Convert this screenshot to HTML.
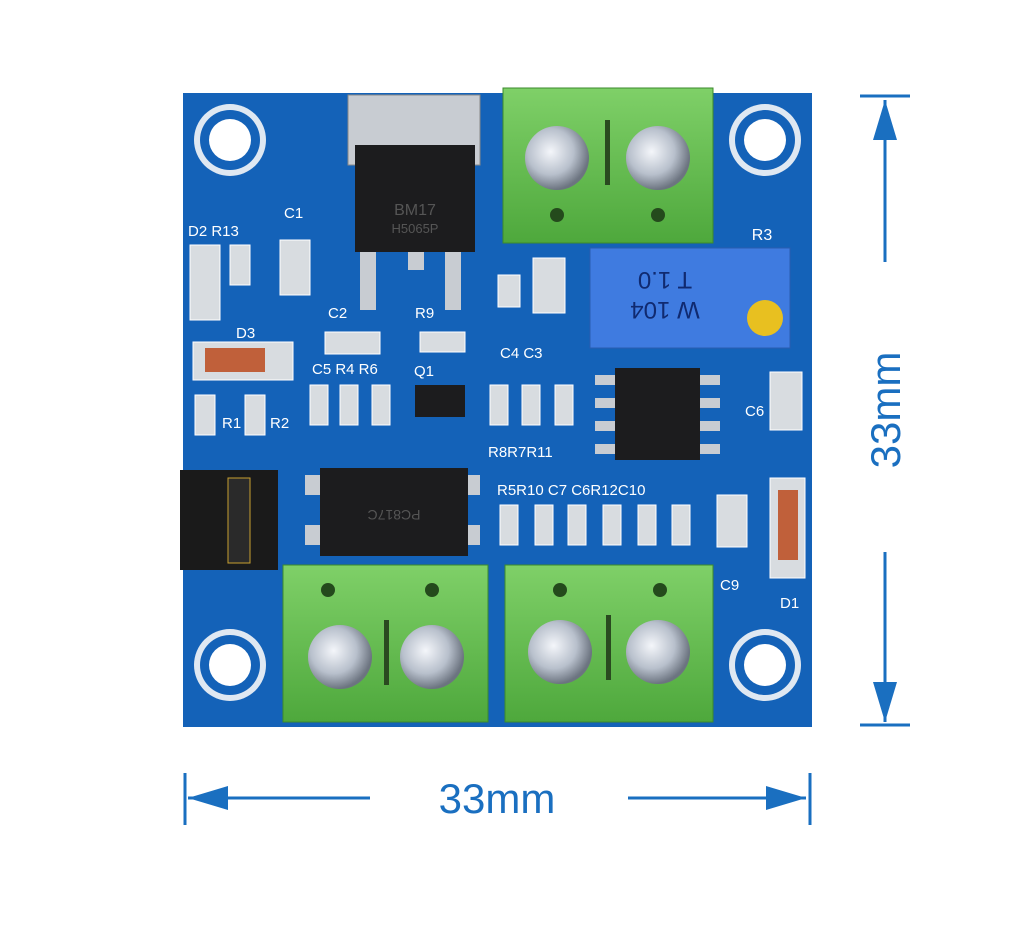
<!DOCTYPE html>
<html><head><meta charset="utf-8"><style>
html,body{margin:0;padding:0;background:#fff;}
svg{display:block}
</style></head><body>
<svg width="1024" height="944" viewBox="0 0 1024 944" xmlns="http://www.w3.org/2000/svg" font-family="Liberation Sans, sans-serif">
<defs>
<radialGradient id="scr" cx="40%" cy="40%" r="60%"><stop offset="0" stop-color="#f4f6fa"/><stop offset="0.6" stop-color="#b8c0cc"/><stop offset="1" stop-color="#6c7480"/></radialGradient>
<linearGradient id="grn" x1="0" y1="0" x2="0" y2="1"><stop offset="0" stop-color="#7fd068"/><stop offset="1" stop-color="#4ea83c"/></linearGradient>
</defs>
<rect x="183" y="93" width="629" height="634" fill="#1462b8"/>
<g>
<circle cx="230" cy="140" r="36" fill="#dfe8f2"/><circle cx="230" cy="140" r="30" fill="#1462b8"/><circle cx="230" cy="140" r="21" fill="#fff"/>
<circle cx="765" cy="140" r="36" fill="#dfe8f2"/><circle cx="765" cy="140" r="30" fill="#1462b8"/><circle cx="765" cy="140" r="21" fill="#fff"/>
<circle cx="230" cy="665" r="36" fill="#dfe8f2"/><circle cx="230" cy="665" r="30" fill="#1462b8"/><circle cx="230" cy="665" r="21" fill="#fff"/>
<circle cx="765" cy="665" r="36" fill="#dfe8f2"/><circle cx="765" cy="665" r="30" fill="#1462b8"/><circle cx="765" cy="665" r="21" fill="#fff"/>
</g>
<rect x="348" y="95" width="132" height="70" fill="#c8ccd2" stroke="#888"/>
<rect x="360" y="252" width="16" height="58" fill="#c8ccd2"/>
<rect x="445" y="252" width="16" height="58" fill="#c8ccd2"/>
<rect x="408" y="250" width="16" height="20" fill="#c8ccd2"/>
<rect x="355" y="145" width="120" height="107" fill="#1c1c1e"/>
<text x="415" y="215" fill="#555" font-size="16" text-anchor="middle">BM17</text>
<text x="415" y="233" fill="#555" font-size="13" text-anchor="middle">H5065P</text>
<rect x="503" y="88" width="210" height="155" fill="url(#grn)" stroke="#3b8a2c"/>
<circle cx="557" cy="158" r="32" fill="url(#scr)"/><circle cx="658" cy="158" r="32" fill="url(#scr)"/>
<rect x="605" y="120" width="5" height="65" fill="#2a4a20"/>
<circle cx="557" cy="215" r="7" fill="#244a1c"/><circle cx="658" cy="215" r="7" fill="#244a1c"/>
<rect x="283" y="565" width="205" height="157" fill="url(#grn)" stroke="#3b8a2c"/>
<circle cx="328" cy="590" r="7" fill="#244a1c"/><circle cx="432" cy="590" r="7" fill="#244a1c"/>
<circle cx="340" cy="657" r="32" fill="url(#scr)"/><circle cx="432" cy="657" r="32" fill="url(#scr)"/>
<rect x="384" y="620" width="5" height="65" fill="#2a4a20"/>
<rect x="505" y="565" width="208" height="157" fill="url(#grn)" stroke="#3b8a2c"/>
<circle cx="560" cy="590" r="7" fill="#244a1c"/><circle cx="660" cy="590" r="7" fill="#244a1c"/>
<circle cx="560" cy="652" r="32" fill="url(#scr)"/><circle cx="658" cy="652" r="32" fill="url(#scr)"/>
<rect x="606" y="615" width="5" height="65" fill="#2a4a20"/>
<rect x="590" y="248" width="200" height="100" fill="#3f7be0" stroke="#2a5cb0"/>
<circle cx="765" cy="318" r="18" fill="#e8c020"/>
<text x="665" y="272" fill="#102a70" font-size="24" text-anchor="middle" transform="rotate(180 665 272)">T 1.0</text>
<text x="665" y="302" fill="#102a70" font-size="24" text-anchor="middle" transform="rotate(180 665 302)">W 104</text>
<text x="762" y="240" fill="#fff" font-size="16" text-anchor="middle">R3</text>
<g fill="#c8ccd2"><rect x="595" y="375" width="22" height="10"/><rect x="595" y="398" width="22" height="10"/><rect x="595" y="421" width="22" height="10"/><rect x="595" y="444" width="22" height="10"/>
<rect x="698" y="375" width="22" height="10"/><rect x="698" y="398" width="22" height="10"/><rect x="698" y="421" width="22" height="10"/><rect x="698" y="444" width="22" height="10"/></g>
<rect x="615" y="368" width="85" height="92" fill="#1c1c1e"/>
<g fill="#c8ccd2"><rect x="305" y="475" width="25" height="20"/><rect x="305" y="525" width="25" height="20"/><rect x="455" y="475" width="25" height="20"/><rect x="455" y="525" width="25" height="20"/></g>
<rect x="320" y="468" width="148" height="88" fill="#1c1c1e"/>
<text x="394" y="500" fill="#555" font-size="14" text-anchor="middle" transform="rotate(180 394 505)">PC817C</text>
<rect x="180" y="470" width="98" height="100" fill="#1a1a1a"/>
<rect x="228" y="478" width="22" height="85" fill="#2a2a2a" stroke="#c8a030"/>
<g fill="#d8dce0" stroke="#fff" stroke-width="1">
<rect x="280" y="240" width="30" height="55"/><rect x="533" y="258" width="32" height="55"/><rect x="498" y="275" width="22" height="32"/>
<rect x="770" y="372" width="32" height="58"/><rect x="717" y="495" width="30" height="52"/>
<rect x="325" y="332" width="55" height="22"/><rect x="420" y="332" width="45" height="20"/>
<rect x="310" y="385" width="18" height="40"/><rect x="340" y="385" width="18" height="40"/><rect x="372" y="385" width="18" height="40"/>
<rect x="490" y="385" width="18" height="40"/><rect x="522" y="385" width="18" height="40"/><rect x="555" y="385" width="18" height="40"/>
<rect x="500" y="505" width="18" height="40"/><rect x="535" y="505" width="18" height="40"/><rect x="568" y="505" width="18" height="40"/><rect x="603" y="505" width="18" height="40"/><rect x="638" y="505" width="18" height="40"/><rect x="672" y="505" width="18" height="40"/>
<rect x="195" y="395" width="20" height="40"/><rect x="245" y="395" width="20" height="40"/><rect x="230" y="245" width="20" height="40"/>
<rect x="190" y="245" width="30" height="75"/><rect x="193" y="342" width="100" height="38"/><rect x="770" y="478" width="35" height="100"/>
</g>
<rect x="415" y="385" width="50" height="32" fill="#1c1c1e"/>
<rect x="205" y="348" width="60" height="24" fill="#c0603a"/>
<rect x="778" y="490" width="20" height="70" fill="#c0603a"/>
<g fill="#fff" font-size="15">
<text x="188" y="236">D2 R13</text><text x="284" y="218">C1</text><text x="328" y="318">C2</text><text x="415" y="318">R9</text>
<text x="236" y="338">D3</text><text x="312" y="374">C5 R4 R6</text><text x="414" y="376">Q1</text>
<text x="500" y="358">C4 C3</text><text x="222" y="428">R1</text><text x="270" y="428">R2</text>
<text x="488" y="457">R8R7R11</text><text x="745" y="416">C6</text>
<text x="497" y="495">R5R10 C7 C6R12C10</text><text x="720" y="590">C9</text><text x="780" y="608">D1</text>
</g>
<g stroke="#1a6fc0" stroke-width="3" fill="#1a6fc0">
<line x1="860" y1="96" x2="910" y2="96"/><line x1="860" y1="725" x2="910" y2="725"/>
<line x1="885" y1="100" x2="885" y2="262"/><line x1="885" y1="552" x2="885" y2="722"/>
<polygon points="885,100 873,140 897,140" stroke="none"/><polygon points="885,722 873,682 897,682" stroke="none"/>
<line x1="185" y1="773" x2="185" y2="825"/><line x1="810" y1="773" x2="810" y2="825"/>
<line x1="188" y1="798" x2="370" y2="798"/><line x1="628" y1="798" x2="806" y2="798"/>
<polygon points="188,798 228,786 228,810" stroke="none"/><polygon points="806,798 766,786 766,810" stroke="none"/>
</g>
<text x="497" y="813" fill="#1a6fc0" font-size="42" text-anchor="middle">33mm</text>
<text x="0" y="0" fill="#1a6fc0" font-size="42" text-anchor="middle" transform="translate(900 410) rotate(-90)">33mm</text>
</svg>
</body></html>
